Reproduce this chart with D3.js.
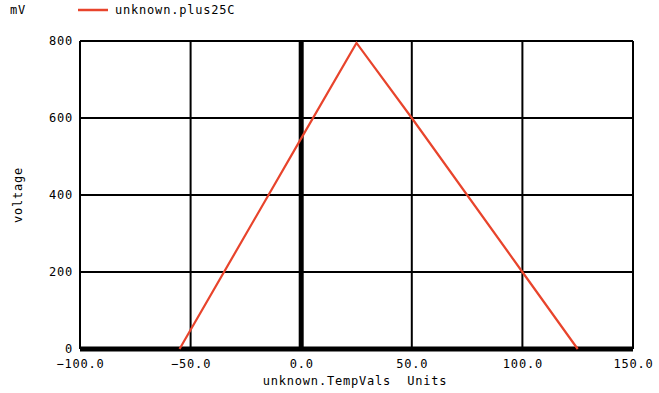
<!DOCTYPE html>
<html>
<head>
<meta charset="utf-8">
<script src="https://cdn.jsdelivr.net/npm/d3@7"></script>
<style>
  body { margin: 0; background: #fff; }
  text { font-family: "DejaVu Sans Mono", monospace; font-size: 12px; letter-spacing: 0.8px; fill: #000; }
</style>
</head>
<body>
<svg id="chart" width="659" height="393"></svg>
<script>
// data
const tempVals = [-55, 0, 25, 50, 100, 125]
const plus25C = [0, 547, 795, 600, 200, 0]
const xTicks = [-100, -50, 0, 50, 100, 150]
const yTicks = [0, 200, 400, 600, 800]
const seriesName = 'unknown.plus25C'

const margin = { left: 80, right: 26, top: 41, bottom: 44 }
const width = 659 - margin.left - margin.right
const height = 393 - margin.top - margin.bottom

const svg = d3.select('#chart')
const g = svg.append('g').attr('transform', 'translate(' + margin.left + ',' + margin.top + ')')

const x = d3.scaleLinear().domain([-100, 150]).range([0, width])
const y = d3.scaleLinear().domain([0, 800]).range([height, 0])

// grid
g.selectAll('.vgrid')
    .data(xTicks)
    .enter()
    .append('line')
    .attr('x1', (d) => x(d))
    .attr('x2', (d) => x(d))
    .attr('y1', 0)
    .attr('y2', height)
    .attr('stroke', '#000')
    .attr('stroke-width', (d) => (d === 0 ? 5 : 2))

g.selectAll('.hgrid')
    .data(yTicks)
    .enter()
    .append('line')
    .attr('x1', 0)
    .attr('x2', width)
    .attr('y1', (d) => y(d))
    .attr('y2', (d) => y(d))
    .attr('stroke', '#000')
    .attr('stroke-width', (d) => (d === 0 ? 5 : 2))

// axes (labels only)
const xAxis = g.append('g')
    .attr('transform', 'translate(0,' + height + ')')
    .call(d3.axisBottom(x).tickValues(xTicks).tickSize(0).tickPadding(10).tickFormat(d3.format('.1f')))
xAxis.select('.domain').remove()
xAxis.selectAll('text').style('font-size', '12px').style('font-family', '"DejaVu Sans Mono", monospace')

const yAxis = g.append('g')
    .call(d3.axisLeft(y).tickValues(yTicks).tickSize(0).tickPadding(7).tickFormat(d3.format('d')))
yAxis.select('.domain').remove()
yAxis.selectAll('text').style('font-size', '12px').style('font-family', '"DejaVu Sans Mono", monospace')

// the line
const line = d3.line()
    .x((d, i) => x(tempVals[i]))
    .y((d) => y(d))

g.append('path')
    .datum(plus25C)
    .attr('d', line)
    .attr('fill', 'none')
    .attr('stroke', '#e8442c')
    .attr('stroke-width', 2.2)

// titles
svg.append('text').attr('x', 10).attr('y', 14).text('mV')
svg.append('line')
    .attr('x1', 78).attr('x2', 108).attr('y1', 10).attr('y2', 10)
    .attr('stroke', '#e8442c').attr('stroke-width', 2.5)
svg.append('text').attr('x', 115).attr('y', 14).text(seriesName)

svg.append('text')
    .attr('transform', 'translate(22,' + 195 + ') rotate(-90)')
    .attr('text-anchor', 'middle')
    .text('voltage')

svg.append('text')
    .attr('x', 355)
    .attr('y', 385)
    .attr('text-anchor', 'middle')
    .attr('xml:space', 'preserve')
    .style('white-space', 'pre')
    .text('unknown.TempVals  Units')
</script>
</body>
</html>
